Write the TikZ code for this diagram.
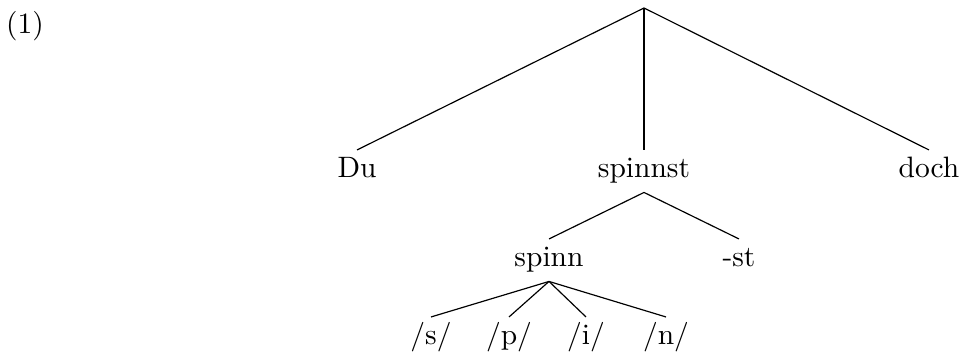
\documentclass[tikz,border=0pt]{standalone}
\begin{document}
\begin{tikzpicture}[x=0.339pt,y=-0.339pt,
  word/.style={inner xsep=0pt,inner ysep=2.3pt,text height=7pt,text depth=2.4pt,anchor=base},
  branch/.style={line width=0.4pt}]
\useasboundingbox (0,0) rectangle (963,356);
\node[inner sep=0pt,anchor=base] (ex) at (25,34) {(1)};
\coordinate (root) at (644,8);
\node[word] (du) at (357,178) {Du};
\node[word] (spinnst) at (644,178) {spinnst};
\node[word] (doch) at (929,178) {doch};
\node[word] (spinn) at (549,267) {spinn};
\node[word] (st) at (739,267) {-st};
\node[word] (s) at (431,345) {/s/};
\node[word] (p) at (509,345) {/p/};
\node[word] (i) at (586,345) {/i/};
\node[word] (n) at (666,345) {/n/};
\draw[branch] (root) -- (du.north);
\draw[branch] (root) -- (spinnst.north);
\draw[branch] (root) -- (doch.north);
\draw[branch] (spinnst.south) -- (spinn.north);
\draw[branch] (spinnst.south) -- (st.north);
\draw[branch] (spinn.south) -- (s.north);
\draw[branch] (spinn.south) -- (p.north);
\draw[branch] (spinn.south) -- (i.north);
\draw[branch] (spinn.south) -- (n.north);
\end{tikzpicture}
\end{document}
